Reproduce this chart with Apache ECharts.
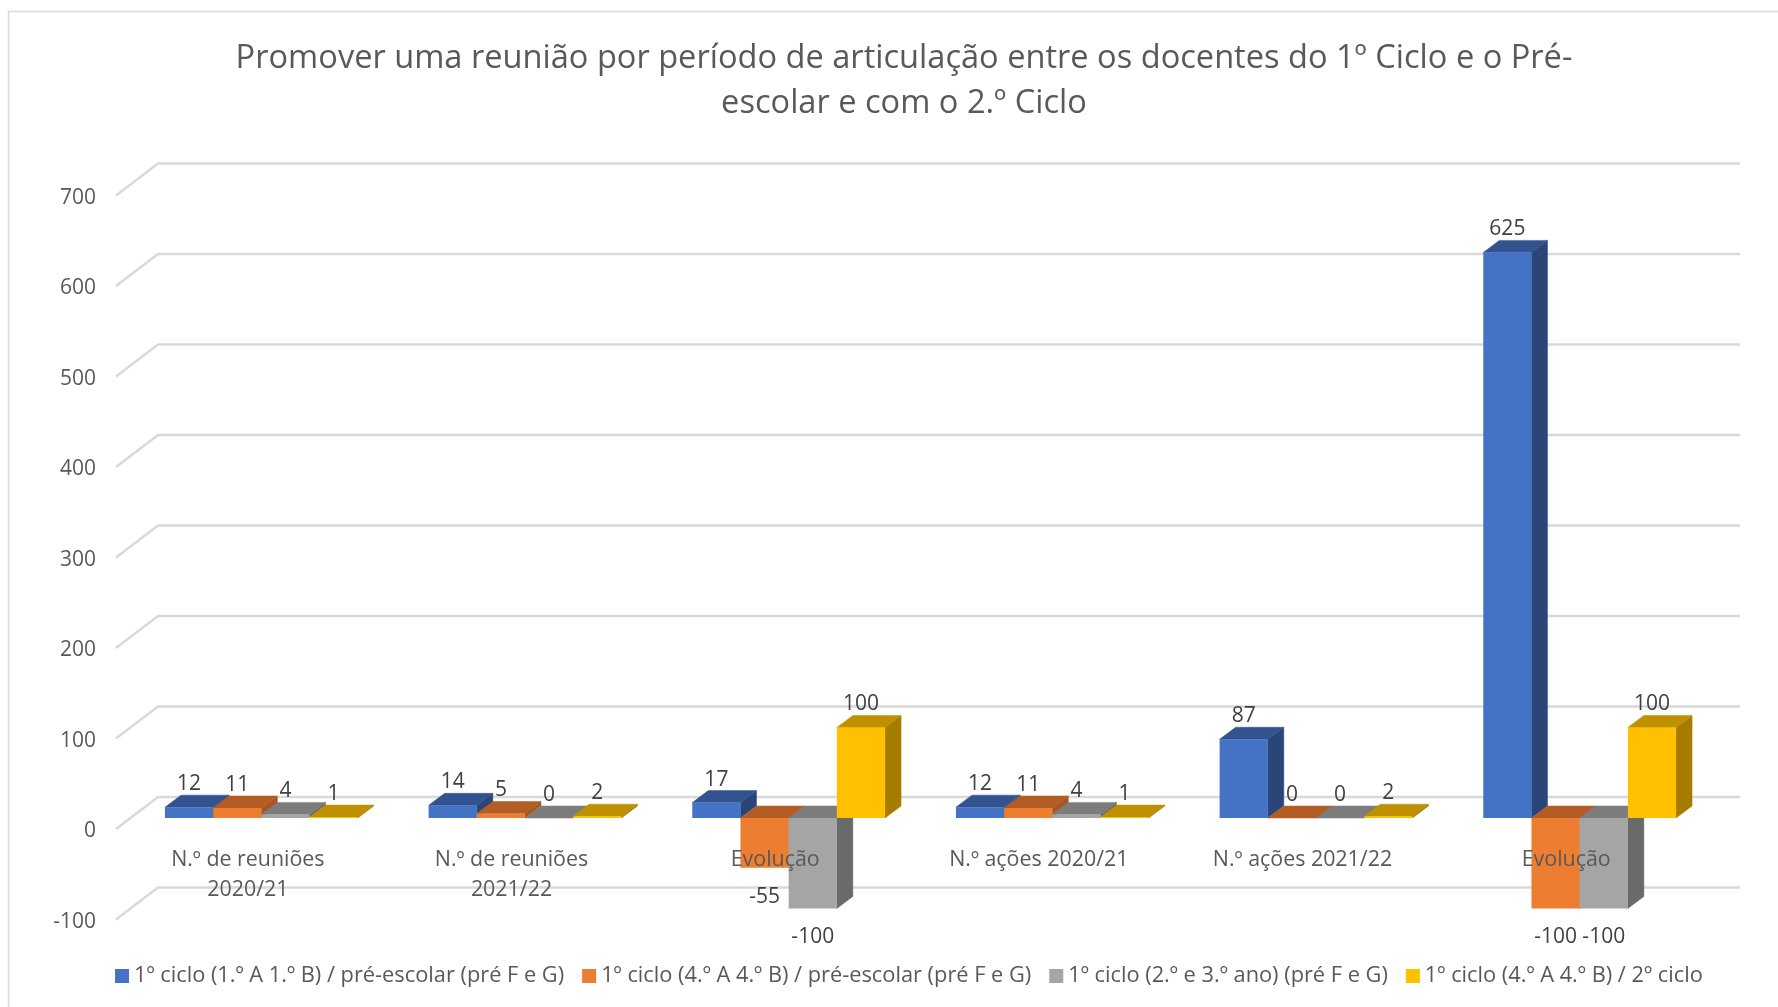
<!DOCTYPE html>
<html><head><meta charset="utf-8">
<style>html,body{margin:0;padding:0;background:#fff}#c{width:1778px;height:1007px}</style>
<script src="https://cdn.jsdelivr.net/npm/echarts@6/dist/echarts.min.js"></script>
</head><body><div id="c"></div>
<script>
const titleText = 'Promover uma reunião por período de articulação entre os docentes do 1º Ciclo e o Pré-\nescolar e com o 2.º Ciclo';
const categories = ['N.º de reuniões\n2020/21','N.º de reuniões\n2021/22','Evolução','N.º ações 2020/21','N.º ações 2021/22','Evolução'];
const seriesNames = ['1º ciclo (1.º A 1.º B) / pré-escolar (pré F e G)','1º ciclo (4.º A 4.º B) / pré-escolar (pré F e G)','1º ciclo (2.º e 3.º ano) (pré F e G)','1º ciclo (4.º A 4.º B) / 2º ciclo'];
const blueValues = [12,14,17,12,87,625];
const orangeValues = [11,5,-55,11,0,-100];
const greyValues = [4,0,-100,4,0,-100];
const yellowValues = [1,2,100,1,2,100];
const yTicks = [-100,0,100,200,300,400,500,600,700];
const frontColors = ['#4472C4','#ED7D31','#A5A5A5','#FFC000'];
const topColors = ['#31538F','#B35D24','#7C7C7C','#BF9000'];
const sideColors = ['#2A4679','#A8561F','#6A6A6A','#A67C00'];
const allValues = [blueValues,orangeValues,greyValues,yellowValues];

const FS = 21, GREY = '#595959';
const WALL_DX = 42, WALL_DY = 32;   // depth of the floor/wall gridlines
const BAR_SHIFT_X = 13.5, BAR_SHIFT_Y = -11;
const BAR_DX = 16, BAR_DY = 12;
const BAR_RATIO = 48.2/263.7;

function barSeries(idx){
  return {
    type:'custom', name:seriesNames[idx], z:3+idx,
    itemStyle:{color:frontColors[idx]},
    data:allValues[idx].map((v,i)=>[i,v]),
    encode:{x:0,y:1},
    renderItem(params,api){
      const cat=api.value(0), v=api.value(1);
      const band=api.size([1,0])[0], w=band*BAR_RATIO;
      const c0=api.coord([cat,0]), c1=api.coord([cat,v]);
      const x0=c0[0]-2*w+BAR_SHIFT_X+idx*w, x1=x0+w;
      const yBase=c0[1]+BAR_SHIFT_Y, yVal=c1[1]+BAR_SHIFT_Y;
      const top=Math.min(yBase,yVal), bot=Math.max(yBase,yVal);
      const poly=(pts,fill)=>({type:'polygon',shape:{points:pts},style:{fill,stroke:fill,lineWidth:0.5},silent:true});
      return {type:'group',children:[
        poly([[x1,top],[x1,bot],[x1+BAR_DX,bot-BAR_DY],[x1+BAR_DX,top-BAR_DY]],sideColors[idx]),
        poly([[x0,top],[x1,top],[x1+BAR_DX,top-BAR_DY],[x0+BAR_DX,top-BAR_DY]],topColors[idx]),
        {type:'rect',shape:{x:x0,y:top,width:w,height:bot-top},style:{fill:frontColors[idx]},silent:true}
      ]};
    }
  };
}
function labelSeries(idx){
  return {
    type:'custom', z:20, silent:true,
    data:allValues[idx].map((v,i)=>[i,v]),
    encode:{x:0,y:1},
    renderItem(params,api){
      const cat=api.value(0), v=api.value(1);
      const band=api.size([1,0])[0], w=band*BAR_RATIO;
      const c0=api.coord([cat,0]), c1=api.coord([cat,v]);
      const x=c0[0]-2*w+BAR_SHIFT_X+idx*w+w/2;
      const y=c1[1]+BAR_SHIFT_Y+(v<0?29:-23);
      return {type:'text',style:{text:String(v),x,y,align:'center',verticalAlign:'middle',fill:'#404040',font:FS+'px "Open Sans"'}};
    }
  };
}
const wallSeries = {
  type:'custom', z:1, silent:true,
  data:yTicks.map(t=>[0,t]),
  encode:{x:0,y:1},
  renderItem(params,api){
    const cs=params.coordSys, y=api.coord([0,api.value(1)])[1];
    return {type:'polyline',shape:{points:[[cs.x,y],[cs.x+WALL_DX,y-WALL_DY],[cs.x+cs.width+WALL_DX,y-WALL_DY]]},
      style:{fill:null,stroke:'#D9D9D9',lineWidth:2.4},silent:true};
  }
};
const chart=echarts.init(document.getElementById('c'),null,{renderer:'canvas'});
chart.setOption({
  animation:false, backgroundColor:'#fff',
  textStyle:{fontFamily:'"Open Sans"'},
  title:{text:titleText,left:899,top:31,textAlign:'center',textStyle:{fontSize:32.6,fontWeight:'normal',color:GREY,lineHeight:45}},
  graphic:[{type:'rect',silent:true,z:0,shape:{x:8.5,y:11.5,width:1800,height:1100},style:{fill:'none',stroke:'#D9D9D9',lineWidth:1.5}}],
  legend:{data:seriesNames,left:110,top:960,icon:'rect',itemWidth:14,itemHeight:14,itemGap:18,textStyle:{fontSize:21.8,color:GREY}},
  grid:{left:116,right:80,top:195.5,height:724,containLabel:false},
  xAxis:{type:'category',data:categories,z:15,axisLine:{show:false},axisTick:{show:false},
    axisLabel:{interval:0,color:GREY,fontSize:21.4,margin:-75,lineHeight:30}},
  yAxis:{type:'value',min:-100,max:700,interval:100,splitLine:{show:false},axisLine:{show:false},axisTick:{show:false},
    axisLabel:{color:GREY,fontSize:FS,margin:20,verticalAlign:'top',lineHeight:5}},
  series:[wallSeries,barSeries(0),barSeries(1),barSeries(2),barSeries(3),labelSeries(0),labelSeries(1),labelSeries(2),labelSeries(3)]
});
</script></body></html>
